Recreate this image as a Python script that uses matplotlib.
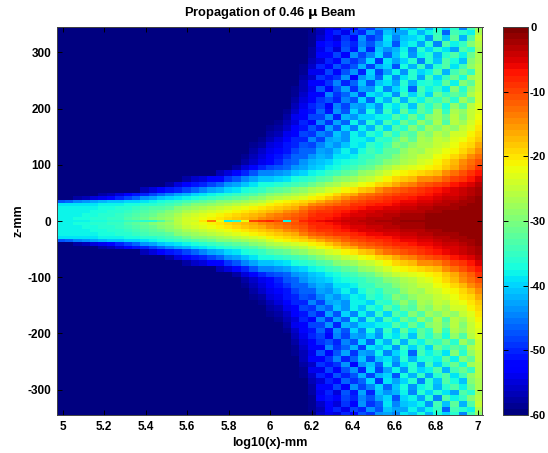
import numpy as np
import matplotlib
matplotlib.use('Agg')
import matplotlib.pyplot as plt

plt.rcParams['font.family'] = ['Liberation Sans', 'DejaVu Sans']

# upper half of the field in dB, mirrored for z < 0
# each row is right aligned, cells missing on the left are -60
z_edges = [0, 2, 8, 14, 20, 26, 32, 38, 44, 50, 60, 70, 80, 90, 100, 110, 120, 130, 140, 150, 160, 170,
           180, 190, 200, 210, 220, 230, 240, 250, 260, 270, 280, 290, 300, 310, 320, 330, 340, 350]

near_rows = [
    [-38,-38,-38,-38,-37,-37,-36,-36,-35,-35,-36,-36,-33,-30,-26,-24,-24,-20,-14,-22,-38,-36,-22,-10,-9,-8,-10,-38,-12,-8,-7,-6,-5,-5,-4,-4,-3,-3,-2,-2,-2,-1,-1,-1,-1,-1,-1,-1,-1,-1,-1],
    [-38,-38,-37,-37,-36,-36,-35,-35,-33,-32,-31,-30,-29,-28,-26,-24,-23,-22,-21,-20,-19,-18,-17,-16,-15,-14,-13,-12,-11,-10,-8,-8,-7,-6,-5,-4,-4,-3,-3,-3,-2,-2,-2,-2,-1,-1,-1,-1,-1,-1,-1],
    [-38,-38,-38,-37,-37,-36,-36,-35,-34,-33,-32,-31,-30,-29,-27,-25,-24,-23,-22,-21,-20,-19,-18,-17,-16,-15,-14,-13,-12,-11,-9,-8,-8,-7,-6,-5,-5,-4,-4,-3,-3,-2,-2,-2,-1,-1,-1,-1,-1,-1,-1],
    [-38,-38,-38,-38,-37,-37,-36,-36,-35,-34,-33,-32,-31,-30,-29,-27,-26,-25,-24,-23,-22,-21,-20,-19,-18,-17,-16,-15,-14,-12,-10,-9,-9,-8,-7,-6,-5,-5,-4,-4,-4,-3,-3,-3,-2,-2,-1,-1,-1,-1,-1],
    [-38,-38,-38,-38,-38,-37,-37,-36,-36,-35,-34,-33,-33,-32,-30,-29,-28,-27,-26,-25,-24,-23,-22,-21,-20,-19,-18,-17,-16,-14,-12,-11,-10,-9,-9,-8,-7,-6,-6,-5,-5,-4,-4,-3,-3,-2,-2,-2,-1,-1,-1],
    [-39,-39,-39,-39,-39,-38,-38,-38,-37,-37,-36,-36,-35,-34,-33,-31,-30,-30,-29,-28,-27,-26,-25,-24,-23,-21,-20,-19,-18,-17,-15,-14,-13,-12,-11,-9,-9,-8,-7,-7,-6,-5,-5,-4,-4,-3,-3,-2,-2,-1,-1],
    [-47,-46,-45,-44,-43,-42,-41,-41,-40,-40,-39,-38,-37,-36,-35,-34,-33,-32,-31,-30,-30,-29,-28,-27,-26,-24,-22,-21,-20,-19,-18,-16,-15,-14,-12,-11,-10,-9,-9,-8,-7,-6,-6,-5,-5,-4,-3,-3,-2,-2,-1],
    [-60,-60,-58,-57,-55,-54,-52,-50,-48,-46,-44,-43,-41,-40,-39,-38,-37,-36,-35,-34,-33,-32,-31,-30,-29,-27,-26,-25,-24,-23,-21,-20,-18,-16,-15,-13,-12,-11,-10,-9,-8,-8,-7,-6,-6,-5,-4,-4,-3,-2,-1],
    [-60,-60,-60,-60,-60,-58,-57,-55,-53,-51,-50,-48,-46,-45,-43,-42,-40,-39,-38,-37,-36,-35,-34,-33,-31,-30,-29,-28,-27,-26,-24,-22,-21,-19,-17,-16,-14,-13,-12,-11,-10,-9,-9,-8,-7,-6,-5,-5,-4,-3,-2],
    [-57,-55,-53,-51,-50,-48,-46,-45,-43,-42,-40,-39,-37,-36,-35,-33,-32,-31,-30,-29,-27,-26,-24,-23,-21,-20,-18,-17,-15,-13,-12,-11,-10,-9,-8,-7,-6,-5,-4,-3,-2],
    [-60,-58,-55,-53,-51,-50,-48,-46,-44,-43,-41,-39,-37,-37,-36,-35,-34,-33,-31,-30,-28,-27,-25,-24,-22,-21,-19,-18,-16,-15,-14,-12,-11,-10,-9,-7,-6,-5,-3],
    [-60,-58,-56,-55,-53,-52,-49,-47,-45,-43,-41,-41,-40,-39,-37,-36,-35,-33,-32,-30,-29,-28,-26,-25,-23,-21,-19,-18,-17,-15,-15,-14,-12,-10,-9,-7,-5],
    [-60,-57,-55,-52,-50,-47,-45,-45,-44,-43,-41,-40,-38,-37,-35,-34,-32,-31,-29,-28,-26,-24,-22,-21,-20,-19,-18,-17,-15,-13,-11,-9,-7],
    [-60,-58,-55,-52,-50,-48,-47,-46,-44,-43,-41,-40,-38,-37,-35,-34,-32,-31,-29,-27,-25,-24,-23,-22,-21,-20,-18,-16,-14,-12,-9],
]

far_rows = [
    [-58,-56,-54,-52,-50,-47,-46,-44,-42,-41,-40,-38,-37,-36,-35,-33,-32,-30,-29,-27,-26,-24,-23,-21,-19,-17,-15,-13,-11],
    [-59,-57,-55,-53,-51,-49,-46,-46,-44,-42,-43,-39,-39,-38,-35,-35,-32,-32,-30,-28,-27,-25,-25,-22,-21,-19,-17,-15,-13],
    [-60,-58,-56,-54,-52,-51,-48,-46,-46,-43,-44,-41,-38,-41,-37,-34,-36,-32,-32,-29,-27,-28,-25,-24,-22,-21,-19,-17,-15],
    [-60,-59,-58,-55,-54,-51,-50,-47,-48,-45,-42,-44,-41,-38,-39,-35,-37,-34,-30,-31,-29,-27,-27,-25,-24,-22,-20,-19,-16],
    [-60,-60,-59,-57,-55,-53,-50,-50,-45,-48,-43,-42,-44,-38,-38,-40,-35,-36,-32,-29,-32,-27,-28,-25,-26,-23,-22,-20,-18],
    [-60,-60,-60,-58,-57,-54,-53,-48,-49,-45,-46,-41,-44,-38,-41,-36,-38,-32,-36,-31,-33,-28,-30,-26,-28,-24,-24,-21,-19],
    [-60,-60,-60,-59,-58,-56,-53,-51,-47,-50,-43,-47,-40,-45,-38,-42,-35,-40,-33,-36,-30,-33,-28,-30,-27,-29,-25,-23,-20],
    [-60,-60,-60,-60,-59,-57,-55,-50,-52,-45,-49,-43,-46,-38,-44,-36,-41,-34,-38,-31,-35,-29,-32,-27,-33,-26,-28,-24,-21],
    [-60,-60,-60,-60,-60,-58,-54,-53,-48,-48,-44,-50,-42,-44,-40,-40,-38,-38,-33,-37,-31,-36,-30,-28,-31,-26,-30,-25,-22],
    [-60,-60,-60,-60,-60,-59,-56,-52,-51,-46,-51,-44,-47,-40,-45,-37,-43,-35,-40,-32,-38,-32,-35,-28,-35,-27,-29,-25,-23],
    [-60,-60,-60,-60,-60,-60,-57,-54,-50,-48,-52,-45,-48,-43,-44,-40,-44,-37,-39,-35,-41,-32,-36,-31,-37,-29,-33,-26,-23],
    [-60,-60,-60,-60,-60,-60,-58,-55,-53,-49,-47,-50,-45,-47,-40,-46,-38,-42,-35,-42,-35,-38,-33,-35,-31,-36,-28,-31,-24],
    [-60,-60,-60,-60,-60,-60,-59,-56,-52,-52,-45,-49,-46,-42,-48,-39,-41,-38,-44,-35,-40,-35,-40,-31,-35,-32,-34,-27,-24],
    [-60,-60,-60,-60,-60,-60,-59,-57,-54,-47,-52,-47,-43,-49,-43,-44,-38,-45,-40,-37,-46,-34,-38,-35,-39,-30,-36,-29,-25],
    [-60,-60,-60,-60,-60,-60,-60,-57,-53,-53,-49,-45,-50,-46,-41,-47,-41,-39,-43,-36,-42,-37,-36,-38,-32,-38,-30,-32,-25],
    [-60,-60,-60,-60,-60,-60,-60,-58,-56,-49,-51,-49,-44,-52,-44,-41,-46,-38,-45,-39,-36,-43,-34,-40,-35,-31,-37,-28,-26],
    [-60,-60,-60,-60,-60,-60,-60,-59,-54,-54,-48,-52,-47,-44,-50,-40,-48,-43,-38,-44,-36,-40,-38,-33,-42,-34,-31,-35,-26],
    [-60,-60,-60,-60,-60,-60,-60,-59,-56,-50,-53,-47,-50,-47,-42,-48,-42,-40,-47,-37,-42,-35,-43,-36,-33,-39,-34,-29,-26],
    [-60,-60,-60,-60,-60,-60,-60,-60,-57,-55,-50,-52,-46,-49,-46,-40,-49,-39,-43,-40,-36,-45,-36,-41,-33,-37,-41,-30,-27],
    [-60,-60,-60,-60,-60,-60,-60,-60,-58,-52,-52,-48,-53,-44,-48,-45,-40,-46,-41,-37,-44,-38,-36,-42,-36,-33,-38,-31,-27],
    [-60,-60,-60,-60,-60,-60,-60,-60,-58,-54,-50,-55,-47,-51,-43,-50,-41,-44,-42,-38,-45,-36,-40,-36,-39,-43,-33,-36,-27],
    [-60,-60,-60,-60,-60,-60,-60,-60,-59,-53,-51,-53,-48,-50,-45,-47,-43,-40,-47,-40,-38,-43,-36,-45,-33,-38,-35,-30,-26],
    [-60,-60,-60,-60,-60,-60,-60,-60,-59,-56,-52,-55,-49,-52,-44,-49,-46,-39,-45,-41,-40,-38,-44,-34,-41,-32,-42,-33,-25],
    [-60,-60,-60,-60,-60,-60,-60,-60,-59,-57,-53,-50,-54,-48,-50,-44,-47,-41,-43,-43,-38,-42,-38,-35,-46,-34,-36,-38,-27],
    [-60,-60,-60,-60,-60,-60,-60,-60,-60,-56,-54,-55,-50,-52,-47,-49,-44,-43,-45,-39,-41,-37,-42,-37,-40,-36,-45,-34,-29],
]

x_ticks = [5, 5.2, 5.4, 5.6, 5.8, 6, 6.2, 6.4, 6.6, 6.8, 7]
x_labels = ['5', '5.2', '5.4', '5.6', '5.8', '6', '6.2', '6.4', '6.6', '6.8', '7']
z_ticks = [-300, -200, -100, 0, 100, 200, 300]
z_labels = ['-300', '-200', '-100', '0', '100', '200', '300']
cbar_ticks = [0, -10, -20, -30, -40, -50, -60]
cbar_labels = ['0', '-10', '-20', '-30', '-40', '-50', '-60']

n_cols = 51
upper = np.array([[-60] * (n_cols - len(r)) + r for r in near_rows + far_rows], dtype=float)
field = np.vstack([upper[::-1], upper])
z = np.array(z_edges, dtype=float)
z = np.concatenate([-z[:0:-1], z])
x = np.linspace(4.97, 7.03, n_cols + 1)

W, H = 548.0, 453.0
fig = plt.figure(figsize=(W / 100, H / 100), dpi=100)
ax = fig.add_axes([57 / W, 1 - 415 / H, (482.5 - 57) / W, (415 - 27) / H])
cax = fig.add_axes([503 / W, 1 - 415 / H, 25 / W, (415 - 27) / H])

mesh = ax.pcolormesh(x, z, field, cmap=plt.get_cmap('jet', 64), vmin=-60, vmax=0, shading='flat', rasterized=True)
ax.set_xlim(4.972, 7.024)
ax.set_ylim(-345, 345)
ax.set_xticks(x_ticks)
ax.set_xticklabels(x_labels)
ax.set_yticks(z_ticks)
ax.set_yticklabels(z_labels)
ax.tick_params(direction='in', top=True, right=True, length=3.5, width=0.7, labelsize=8.5, pad=4)
ax.set_title('Propagation of 0.46 $\\mathbf{\\mu}$ Beam', fontsize=9.3, fontweight='bold', pad=8)
ax.set_xlabel('log10(x)-mm', fontsize=9.1, fontweight='bold', labelpad=3)
ax.set_ylabel('z-mm', fontsize=9, fontweight='bold', labelpad=2)

cb = fig.colorbar(mesh, cax=cax)
cb.set_ticks(cbar_ticks)
cb.set_ticklabels(cbar_labels)
cb.ax.tick_params(direction='in', left=True, right=True, length=3.5, width=0.7, labelsize=8, pad=1.5)

for a in [ax, cax]:
    for lab in a.get_xticklabels() + a.get_yticklabels():
        lab.set_fontweight('bold')
    for s in a.spines.values():
        s.set_linewidth(0.7)
        s.set_color('#444444')

fig.savefig('out.png', dpi=100)
